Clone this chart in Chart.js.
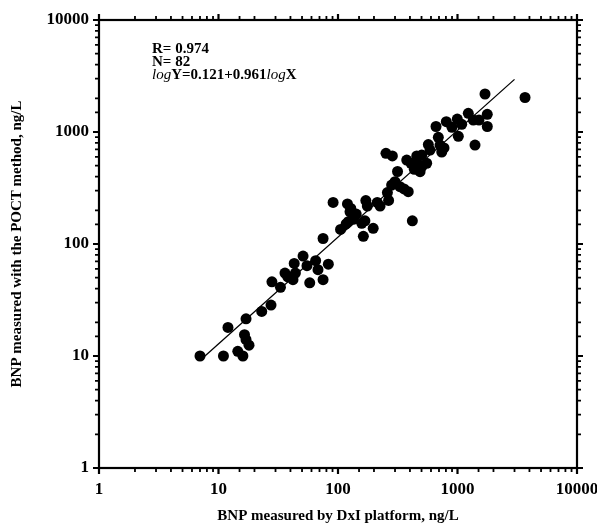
<!DOCTYPE html>
<html>
<head>
<meta charset="utf-8">
<script src="https://cdn.jsdelivr.net/npm/chart.js@4/dist/chart.umd.min.js"></script>
<style>
html,body{margin:0;padding:0;background:#fff;}
#wrap{width:597px;height:530px;position:relative;}
</style>
</head>
<body>
<div id="wrap"><canvas id="c" width="597" height="530"></canvas></div>
<script>
// ---- data ----
const dxiValues = [7, 11, 12, 14.5, 16, 16.5, 17, 18, 17, 23, 27.5, 28, 33, 36, 44, 42, 43, 51, 55, 65, 83, 68, 58, 75,
  75, 105, 91, 120, 128, 126, 122, 134, 158, 168, 163, 197, 171, 176, 213, 259, 265,
  281, 300, 330, 357, 387, 315,
  252, 285, 376, 408, 435, 486, 502, 552,
  456, 456, 502, 570, 738, 714, 691, 419,
  661, 806, 899, 996, 1084, 1016, 1231, 1356, 1513, 1775, 1775, 1401, 1699, 3673,
  117, 38, 225, 771, 589, 142];
const poctValues = [10, 10, 18, 11, 10, 15.5, 14, 12.5, 21.5, 25, 28.5, 46, 41, 55, 55, 48, 67, 78, 64, 71, 66, 59, 45, 48,
  112, 135, 235, 228, 208, 194, 158, 166, 153, 161, 117, 138, 244, 218, 235, 288, 245,
  336, 360, 325, 310, 293, 444,
  645, 611, 562, 526, 465, 442, 490, 526,
  611, 542, 623, 773, 663, 765, 897, 161,
  1120, 1236, 1100, 1306, 1172, 916, 1469, 1280, 1280, 1439, 1120, 765, 2184, 2033,
  151, 51, 218, 720, 690, 185];
const fitLineX = [7.3, 3000];
const fitLineY = [9.5, 2950];
const tickLabels = ['1', '10', '100', '1000', '10000'];
const xTitle = 'BNP measured by DxI platform, ng/L';
const yTitle = 'BNP measured with the POCT method, ng/L';
const statLines = ['R= 0.974', 'N= 82'];
const eqParts = [['log', 'i'], ['Y=0.121+0.961', 'b'], ['log', 'i'], ['X', 'b']];

const points = dxiValues.map((x, i) => ({x: x, y: poctValues[i]}));
const fitLine = fitLineX.map((x, i) => ({x: x, y: fitLineY[i]}));

const SERIF = '"Liberation Serif", "DejaVu Serif", serif';

function tickCallback(v) {
  const s = String(Math.round(v));
  return tickLabels.includes(s) && Math.abs(v - Math.round(v)) < 1e-9 ? s : '';
}

const frameTicks = {
  id: 'frameTicks',
  afterDatasetsDraw(chart) {
    const ctx = chart.ctx;
    const a = chart.chartArea;
    const xs = chart.scales.x, ys = chart.scales.y;
    ctx.save();
    ctx.strokeStyle = '#000';
    ctx.lineCap = 'butt';
    const isMajor = v => Math.abs(Math.log10(v) - Math.round(Math.log10(v))) < 1e-9;
    xs.ticks.forEach(t => {
      const px = xs.getPixelForValue(t.value);
      const maj = isMajor(t.value);
      const len = maj ? 6 : 4;
      ctx.lineWidth = maj ? 2.2 : 1.8;
      ctx.beginPath();
      ctx.moveTo(px, a.bottom); ctx.lineTo(px, a.bottom + len);
      ctx.moveTo(px, a.top); ctx.lineTo(px, a.top - len);
      ctx.stroke();
    });
    ys.ticks.forEach(t => {
      const py = ys.getPixelForValue(t.value);
      const maj = isMajor(t.value);
      const len = maj ? 6 : 4;
      ctx.lineWidth = maj ? 2.2 : 1.8;
      ctx.beginPath();
      ctx.moveTo(a.left, py); ctx.lineTo(a.left - len, py);
      ctx.moveTo(a.right, py); ctx.lineTo(a.right + len, py);
      ctx.stroke();
    });
    ctx.lineWidth = 2.2;
    ctx.strokeRect(a.left, a.top, a.right - a.left, a.bottom - a.top);

    ctx.fillStyle = '#000';
    ctx.textBaseline = 'alphabetic';
    ctx.textAlign = 'left';
    const tx = a.left + 53;
    ctx.font = 'bold 15px ' + SERIF;
    ctx.fillText(statLines[0], tx, a.top + 33);
    ctx.fillText(statLines[1], tx, a.top + 46);
    let cx = tx;
    eqParts.forEach(p => {
      ctx.font = (p[1] === 'i' ? 'italic 15px ' : 'bold 15px ') + SERIF;
      ctx.fillText(p[0], cx, a.top + 59);
      cx += ctx.measureText(p[0]).width;
    });
    ctx.restore();
  }
};

new Chart(document.getElementById('c'), {
  type: 'scatter',
  data: {
    datasets: [
      {
        type: 'scatter',
        data: points,
        backgroundColor: '#000',
        borderColor: '#000',
        pointRadius: 5.5,
        pointBorderWidth: 0,
        order: 1
      },
      {
        type: 'line',
        data: fitLine,
        borderColor: '#000',
        borderWidth: 1.3,
        pointRadius: 0,
        fill: false,
        order: 2
      }
    ]
  },
  options: {
    responsive: false,
    animation: false,
    devicePixelRatio: 1,
    layout: {padding: {left: 0, right: 20, top: 20, bottom: 0}},
    plugins: {legend: {display: false}, tooltip: {enabled: false}},
    scales: {
      x: {
        type: 'logarithmic',
        position: 'bottom',
        min: 1, max: 10000,
        grid: {display: false, drawTicks: false},
        border: {display: false},
        ticks: {
          autoSkip: false, maxRotation: 0, minRotation: 0, padding: 11,
          color: '#000',
          font: {family: SERIF, size: 17, weight: 'bold'},
          callback: tickCallback
        },
        title: {
          display: true, text: xTitle, color: '#000',
          font: {family: SERIF, size: 15, weight: 'bold'},
          padding: {top: 0, bottom: 5}
        },
        afterFit(s) { s.height = 62; s.paddingLeft = 0; s.paddingRight = 0; }
      },
      y: {
        type: 'logarithmic',
        position: 'left',
        min: 1, max: 10000,
        grid: {display: false, drawTicks: false},
        border: {display: false},
        ticks: {
          autoSkip: false, padding: 10,
          color: '#000',
          font: {family: SERIF, size: 17, weight: 'bold'},
          callback: tickCallback
        },
        title: {
          display: true, text: yTitle, color: '#000',
          font: {family: SERIF, size: 15, weight: 'bold'},
          padding: {top: 8, bottom: 0}
        },
        afterFit(s) { s.width = 99; s.paddingTop = 0; s.paddingBottom = 0; }
      }
    }
  },
  plugins: [frameTicks]
});
</script>
</body>
</html>
